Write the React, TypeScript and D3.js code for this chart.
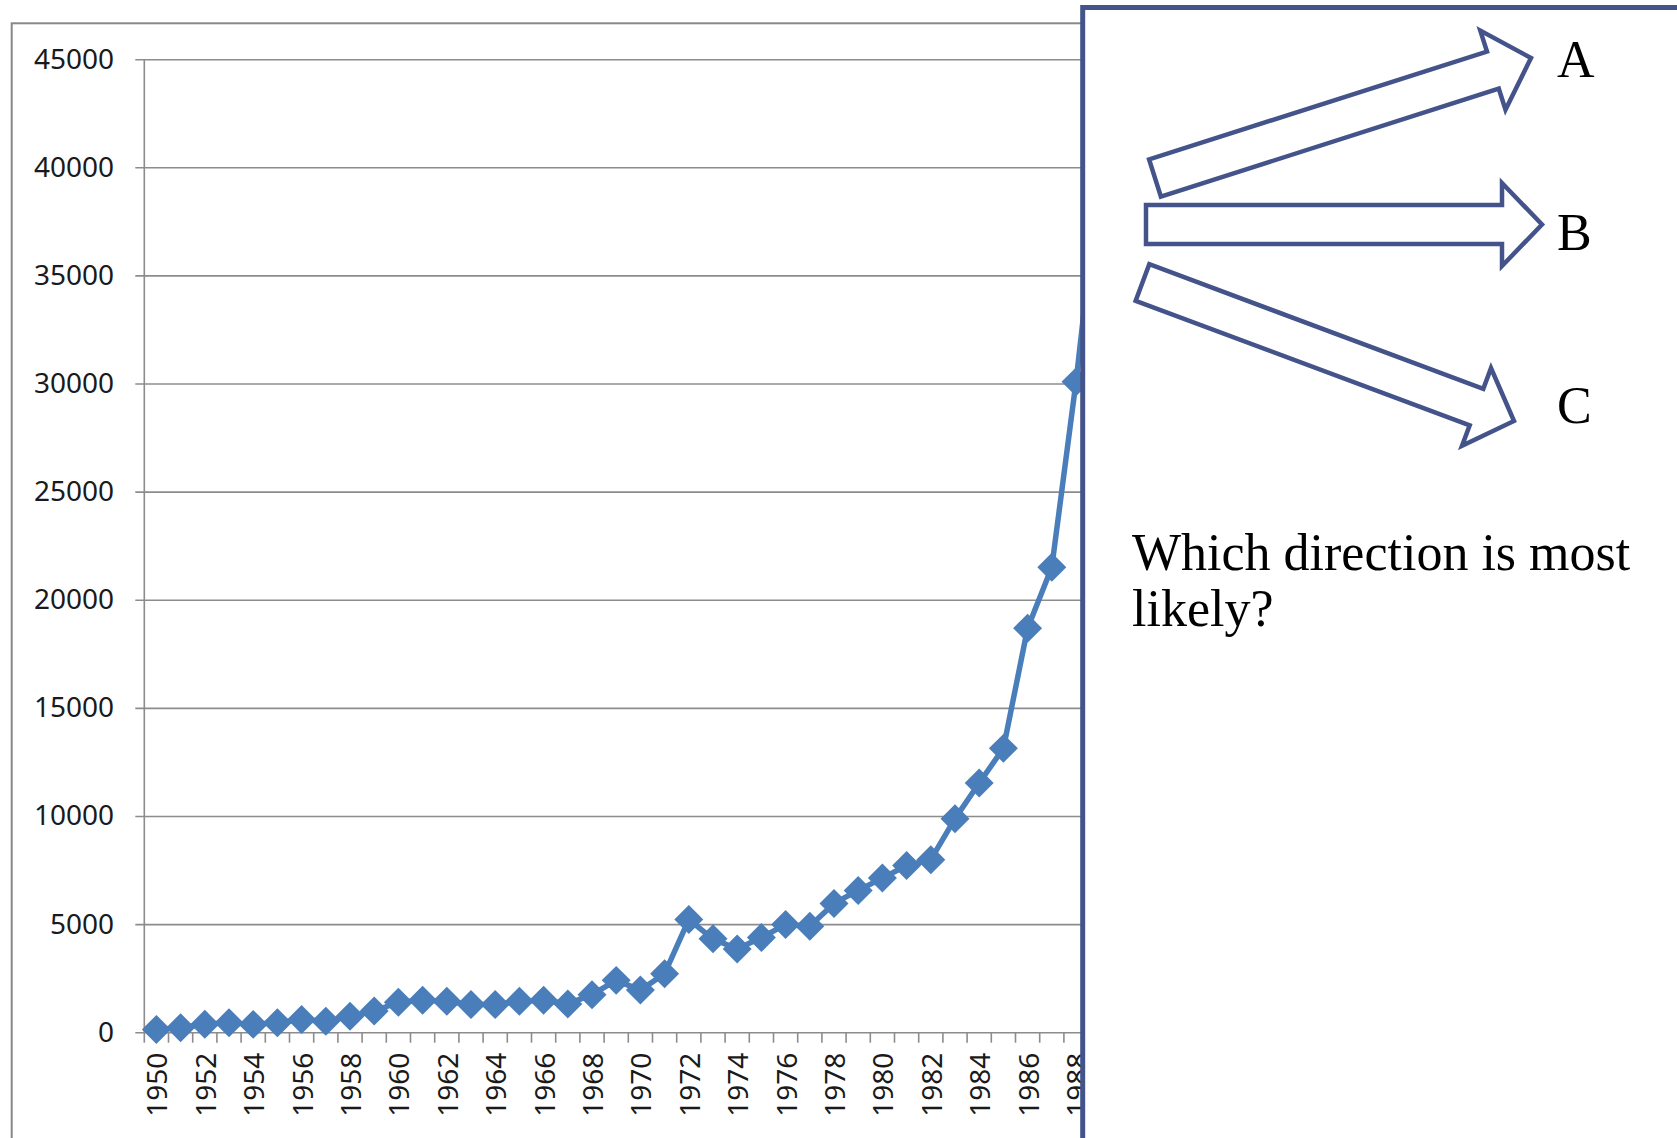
import React from "react";
import * as d3 from "d3";

// ---- data ----
const years: number[] = [
  1950, 1951, 1952, 1953, 1954, 1955, 1956, 1957, 1958, 1959,
  1960, 1961, 1962, 1963, 1964, 1965, 1966, 1967, 1968, 1969,
  1970, 1971, 1972, 1973, 1974, 1975, 1976, 1977, 1978, 1979,
  1980, 1981, 1982, 1983, 1984, 1985, 1986, 1987, 1988, 1989,
];
const values: number[] = [
  150, 230, 390, 460, 385, 460, 610, 530, 760, 1000,
  1410, 1500, 1450, 1300, 1300, 1450, 1500, 1330, 1760, 2420,
  1970, 2730, 5230, 4340, 3870, 4400, 5000, 4920, 5980, 6580,
  7150, 7730, 8000, 9900, 11550, 13150, 18710, 21530, 30100, 40000,
];
const yTicks: number[] = [0, 5000, 10000, 15000, 20000, 25000, 30000, 35000, 40000, 45000];
const xLabelYears: number[] = years.filter((y) => y % 2 === 0);
const questionLines: string[] = ["Which direction is most", "likely?"];
const choiceLabels: string[] = ["A", "B", "C"];

// ---- styles / layout ----
const W = 1677;
const H = 1138;
const plotLeft = 144.3;
const plotTop = 59.7;
const plotBottom = 1032.7;
const band = 24.2;
const gridColor = "#8c8c8c";
const seriesColor = "#4a7ebb";
const panelColor = "#44548a";
const axisFont = "'Noto Sans', 'DejaVu Sans', sans-serif";
const serifFont = "'Liberation Serif', 'Times New Roman', serif";

// decorative block arrows (base point, tip point)
const arrows = [
  { base: [1155, 178], tip: [1531, 58] },
  { base: [1146, 224.5], tip: [1542, 224.5] },
  { base: [1142.5, 282.5], tip: [1514, 421] },
];
const labelBaselines = [77, 250, 423];

function blockArrow(base: number[], tip: number[], sh = 19.5, hh = 41.5, hl = 40): string {
  const dx = tip[0] - base[0];
  const dy = tip[1] - base[1];
  const len = Math.hypot(dx, dy);
  const ux = dx / len, uy = dy / len;
  const nx = -uy, ny = ux;
  const neck = [tip[0] - ux * hl, tip[1] - uy * hl];
  const pts = [
    [base[0] + nx * sh, base[1] + ny * sh],
    [neck[0] + nx * sh, neck[1] + ny * sh],
    [neck[0] + nx * hh, neck[1] + ny * hh],
    tip,
    [neck[0] - nx * hh, neck[1] - ny * hh],
    [neck[0] - nx * sh, neck[1] - ny * sh],
    [base[0] - nx * sh, base[1] - ny * sh],
  ];
  return "M" + pts.map((p) => `${p[0].toFixed(1)},${p[1].toFixed(1)}`).join("L") + "Z";
}

export default function App() {
  const x = d3
    .scaleBand<number>()
    .domain(years)
    .range([plotLeft, plotLeft + years.length * band])
    .padding(0);
  const y = d3.scaleLinear().domain([0, 45000]).range([plotBottom, plotTop]);
  const cx = (yr: number) => (x(yr) as number) + x.bandwidth() / 2;
  const plotRight = plotLeft + years.length * band;

  const data = years.map((yr, i) => ({ yr, v: values[i] }));
  const line = d3
    .line<{ yr: number; v: number }>()
    .x((d) => cx(d.yr))
    .y((d) => y(d.v));
  const diamond = d3.symbol().type(d3.symbolSquare).size(420)();

  const tickBoundaries = years.map((yr) => x(yr) as number).concat([plotRight]);

  return (
    <svg
      width={W}
      height={H}
      style={{ position: "absolute", left: 0, top: 0, display: "block", background: "#fff" }}
    >
      <rect x={0} y={0} width={W} height={H} fill="#fff" />
      {/* chart outer border */}
      <rect x={11.7} y={23.3} width={2000} height={2000} fill="none" stroke="#888" strokeWidth={2} />

      {/* gridlines + y labels */}
      {yTicks.map((t) => (
        <g key={t}>
          <line x1={plotLeft - 9} x2={plotRight} y1={y(t)} y2={y(t)} stroke={gridColor} strokeWidth={1.6} />
          <text
            x={114}
            y={y(t) - 2}
            textAnchor="end"
            dominantBaseline="central"
            fontFamily={axisFont}
            fontSize={28}
            fill="#1a1a1a"
          >
            {t}
          </text>
        </g>
      ))}
      {/* y axis */}
      <line x1={plotLeft} x2={plotLeft} y1={plotTop} y2={plotBottom} stroke={gridColor} strokeWidth={1.6} />
      {/* x ticks */}
      {tickBoundaries.map((bx, i) => (
        <line key={i} x1={bx} x2={bx} y1={plotBottom} y2={plotBottom + 10} stroke={gridColor} strokeWidth={1.6} />
      ))}
      {xLabelYears.map((yr) => (
        <text
          key={yr}
          transform={`translate(${cx(yr)},${plotBottom + 20}) rotate(-90)`}
          textAnchor="end"
          dominantBaseline="central"
          fontFamily={axisFont}
          fontSize={28}
          fill="#1a1a1a"
        >
          {yr}
        </text>
      ))}

      {/* series */}
      <path d={line(data) as string} fill="none" stroke={seriesColor} strokeWidth={5.5} strokeLinejoin="round" />
      {data.map((d) => (
        <path
          key={d.yr}
          d={diamond as string}
          transform={`translate(${cx(d.yr)},${y(d.v)}) rotate(45)`}
          fill={seriesColor}
        />
      ))}

      {/* overlay panel */}
      <rect x={1082.7} y={7.5} width={1000} height={1500} fill="#fff" stroke={panelColor} strokeWidth={5} />
      {arrows.map((a, i) => (
        <path key={i} d={blockArrow(a.base, a.tip)} fill="#fff" stroke={panelColor} strokeWidth={4.5} strokeLinejoin="miter" />
      ))}
      {choiceLabels.map((c, i) => (
        <text key={c} x={1557} y={labelBaselines[i]} fontFamily={serifFont} fontSize={52} fill="#000">
          {c}
        </text>
      ))}
      {questionLines.map((s, i) => (
        <text key={i} x={1132} y={570 + i * 56} fontFamily={serifFont} fontSize={52} fill="#000">
          {s}
        </text>
      ))}
    </svg>
  );
}
